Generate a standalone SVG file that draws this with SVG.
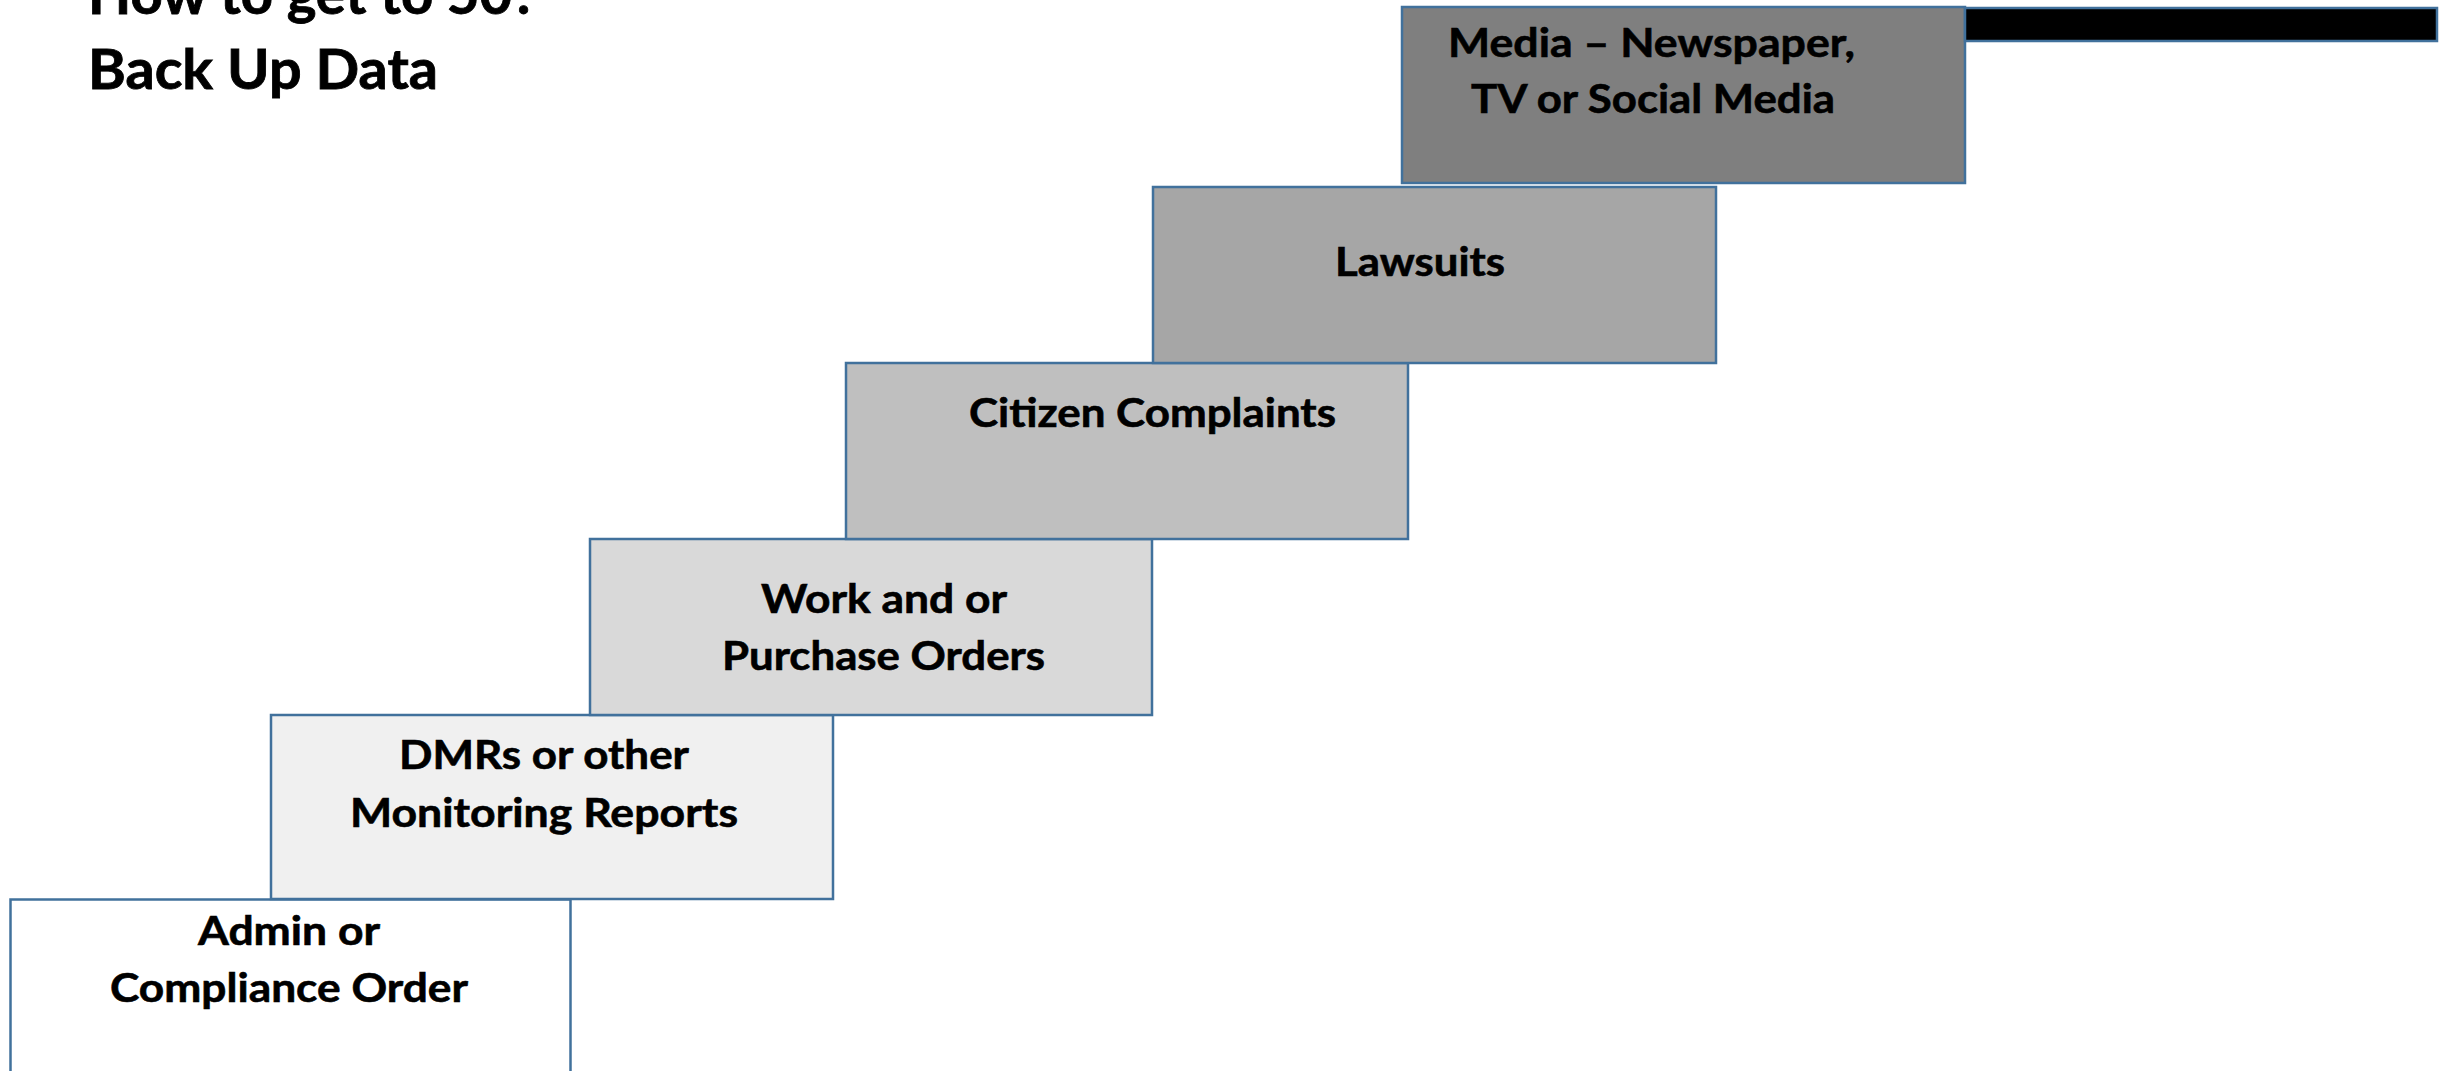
<svg xmlns="http://www.w3.org/2000/svg" width="2443" height="1071" viewBox="0 0 2443 1071">
<style>
.box{stroke:#41719c;stroke-width:2.5}
.t{font-family:Lato,"Open Sans","Liberation Sans",sans-serif;font-weight:bold;font-size:40px;fill:#000;stroke:#000;stroke-width:0.6}
.title{font-family:Lato,"Open Sans","Liberation Sans",sans-serif;font-weight:bold;font-size:55px;fill:#000;stroke:#000;stroke-width:0.8}
</style>
<rect width="2443" height="1071" fill="#ffffff"/>
<g id="title">
<text class="title" x="88" y="14" textLength="450" lengthAdjust="spacingAndGlyphs">How to get to 50?</text>
<text class="title" x="88" y="89" textLength="350" lengthAdjust="spacingAndGlyphs">Back Up Data</text>
</g>
<g id="admin">
<rect class="box" x="10.5" y="899.5" width="560" height="185" fill="#ffffff"/>
<text class="t" x="198" y="945" textLength="182" lengthAdjust="spacingAndGlyphs">Admin or</text>
<text class="t" x="110" y="1002" textLength="358" lengthAdjust="spacingAndGlyphs">Compliance Order</text>
</g>
<g id="dmrs">
<rect class="box" x="271" y="715" width="562" height="184" fill="#f0f0f0"/>
<text class="t" x="399" y="769" textLength="290" lengthAdjust="spacingAndGlyphs">DMRs or other</text>
<text class="t" x="350" y="827" textLength="388" lengthAdjust="spacingAndGlyphs">Monitoring Reports</text>
</g>
<g id="work">
<rect class="box" x="590" y="539" width="562" height="176" fill="#d9d9d9"/>
<text class="t" x="761" y="613" textLength="246" lengthAdjust="spacingAndGlyphs">Work and or</text>
<text class="t" x="722" y="670" textLength="323" lengthAdjust="spacingAndGlyphs">Purchase Orders</text>
</g>
<g id="citizen">
<rect class="box" x="846" y="363" width="562" height="176" fill="#bfbfbf"/>
<text class="t" x="969" y="427" textLength="367" lengthAdjust="spacingAndGlyphs">Citizen Complaints</text>
</g>
<g id="lawsuits">
<rect class="box" x="1153" y="187" width="563" height="176" fill="#a6a6a6"/>
<text class="t" x="1335" y="276" textLength="170" lengthAdjust="spacingAndGlyphs">Lawsuits</text>
</g>
<g id="media">
<rect class="box" x="1402" y="7" width="563" height="176" fill="#7f7f7f"/>
<text class="t" x="1448" y="57" textLength="407" lengthAdjust="spacingAndGlyphs">Media – Newspaper,</text>
<text class="t" x="1471" y="113" textLength="364" lengthAdjust="spacingAndGlyphs">TV or Social Media</text>
</g>
<g id="bar">
<rect class="box" x="1965" y="8" width="472" height="33" fill="#000000"/>
</g>
<g id="connectors"></g>
</svg>
